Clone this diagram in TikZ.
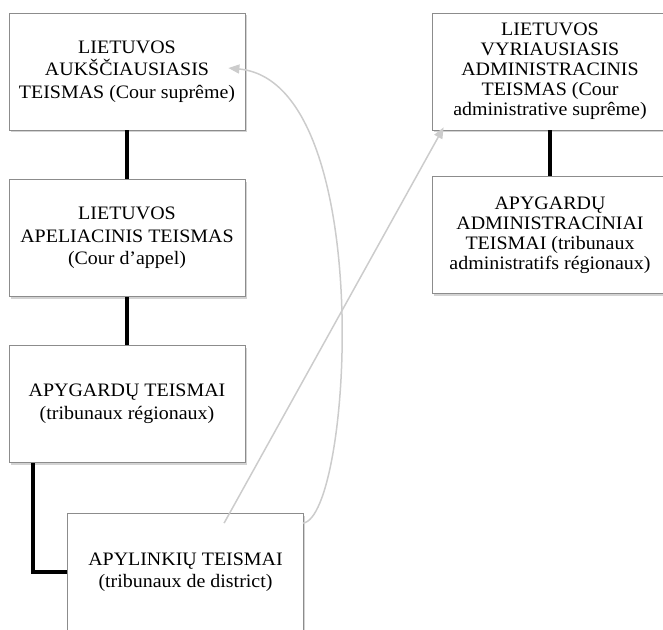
\documentclass[tikz,border=0pt]{standalone}
\usepackage{fontspec}
\setmainfont{Liberation Serif}[FakeStretch=1.05]
\usetikzlibrary{shadows,arrows.meta,calc}
\begin{document}
\begin{tikzpicture}[x=1pt,y=-1pt,
  court/.style={draw=black!45, line width=0.8pt, fill=white,
    drop shadow={opacity=0.35, shadow xshift=1.5pt, shadow yshift=-2pt},
    minimum width=236pt, minimum height=117pt,
    inner xsep=0pt, align=center},
  lfont/.style={font=\fontsize{19}{22.5}\selectfont},
  rfont/.style={font=\fontsize{19}{20}\selectfont},
  link/.style={line width=4pt, black},
  appeal/.style={draw=black!20, line width=1.5pt,
    -{Triangle[length=11pt,width=9pt]}}]
\useasboundingbox (0,0) rectangle (663,629);
\node[court,lfont] (b1) at (127,71.5) {LIETUVOS\\AUKŠČIAUSIASIS\\TEISMAS (Cour suprême)};
\node[court,lfont] (b2) at (127,238) {LIETUVOS\\APELIACINIS TEISMAS\\(Cour d’appel)};
\node[court,lfont] (b3) at (127,404) {APYGARDŲ TEISMAI\\(tribunaux régionaux)};
\node[court,lfont] (b4) at (185.5,572) {APYLINKIŲ TEISMAI\\(tribunaux de district)};
\node[court,rfont] (bA) at (550,71.5) {LIETUVOS\\VYRIAUSIASIS\\ADMINISTRACINIS\\TEISMAS (Cour\\administrative suprême)};
\node[court,rfont] (bB) at (550,235) {APYGARDŲ\\ADMINISTRACINIAI\\TEISMAI (tribunaux\\administratifs régionaux)};
\draw[link] (b1) -- (b2);
\draw[link] (b2) -- (b3);
\draw[link] ($(b3.south west)+(24,0)$) |- (b4.west);
\draw[link] (bA) -- (bB);
\coordinate (s1) at ($(b4.north east)+(-1,10)$);
\coordinate (e1) at ($(b1.east)+(-17,-3.5)$);
\coordinate (s2) at ($(b4.north west)+(157,10)$);
\coordinate (e2) at ($(bA.south west)+(12,-3)$);
\draw[appeal] (s1) .. controls (352,518) and (378,82) .. (e1);
\draw[appeal] (s2) -- (e2);
\end{tikzpicture}
\end{document}
